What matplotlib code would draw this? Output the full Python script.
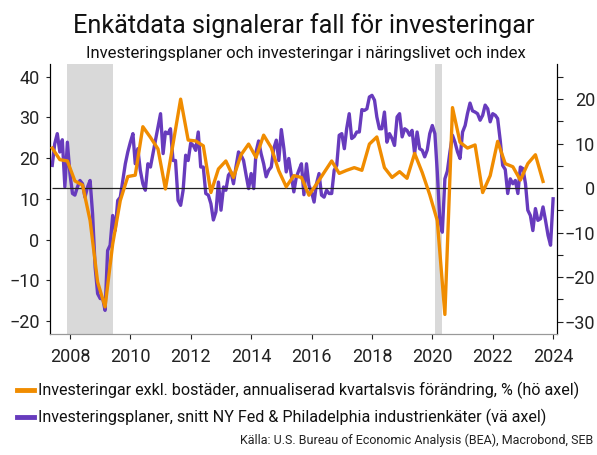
import numpy as np
import pandas as pd
import matplotlib
matplotlib.use("Agg")
import matplotlib.pyplot as plt

plt.rcParams['font.family'] = ['Roboto', 'DejaVu Sans']

# Investeringsplaner, snitt NY Fed & Philadelphia (vä axel), månadsdata från juni 2007
plans = [
    18.2, 23.5, 26.0, 21.5, 24.5, 12.9, 23.9, 16.2, 11.3, 10.9,
    12.9, 14.5, 13.7, 10.4, 12.9, 14.5, 6.3, -6.8, -13.3, -14.5,
    -14.5, -17.4, -2.7, -1.4, 5.9, 2.2, 9.6, 10.4, 14.5, 18.6,
    21.5, 23.9, 26.0, 18.6, 22.3, 17.0, 13.7, 12.1, 18.6, 17.8,
    21.1, 24.4, 27.6, 30.9, 21.1, 26.4, 26.0, 27.2, 19.4, 19.4,
    9.6, 8.4, 12.1, 20.7, 19.4, 23.7, 23.1, 21.9, 26.4, 17.8,
    17.8, 11.3, 10.9, 8.8, 4.8, 6.8, 14.1, 7.2, 12.9, 12.1,
    15.8, 16.6, 13.7, 17.8, 21.5, 20.7, 19.4, 15.8, 12.5, 16.2,
    12.5, 21.5, 24.2, 21.1, 18.6, 15.4, 17.0, 17.8, 22.3, 24.4,
    19.4, 27.0, 22.3, 16.6, 19.9, 15.8, 11.7, 15.3, 17.0, 18.6,
    11.0, 18.6, 13.3, 11.7, 9.2, 13.7, 16.2, 10.9, 10.4, 12.1,
    11.3, 11.3, 17.0, 18.2, 25.6, 26.0, 22.3, 27.2, 30.9, 24.8,
    25.3, 26.4, 26.4, 31.9, 31.7, 32.1, 35.0, 35.4, 34.2, 30.1,
    27.2, 27.2, 31.3, 23.9, 26.0, 24.8, 23.1, 30.1, 30.9, 25.2,
    27.2, 26.8, 25.6, 26.8, 21.1, 26.4, 22.3, 21.9, 20.3, 22.0,
    26.0, 28.0, 26.0, 16.6, 4.7, 1.8, 14.9, 16.8, 21.5, 25.6,
    23.9, 21.5, 19.9, 26.4, 28.0, 30.9, 33.5, 31.6, 31.3, 30.9,
    29.3, 30.5, 33.0, 32.1, 28.9, 30.9, 30.5, 29.7, 24.4, 18.2,
    17.2, 11.3, 14.9, 13.7, 14.5, 11.3, 17.8, 17.4, 13.7, 7.2,
    5.9, 2.2, 7.6, 4.7, 5.1, 8.0, 4.7, 1.0, -1.4, 10.0,
]

# Investeringar exkl. bostäder, % annualiserad kvartalsvis (hö axel)
invest = [
    9.0, 6.4, 6.1, 1.6, 0.7, -7.3, -21.1, -26.7, -12.6, -2.8,
    2.6, 2.9, 13.8, 11.4, 8.8, -0.2, 9.9, 20.0, 10.8, 10.6,
    9.5, -1.0, 4.3, 6.1, 2.4, 7.5, 9.9, 6.9, 11.9, 9.1,
    3.9, 0.3, 2.8, 2.4, -1.6, 0.9, 3.5, 6.1, 3.3, 4.0,
    4.6, 4.0, 9.9, 11.5, 4.6, 2.4, 3.7, 2.2, 7.8, 3.5,
    -1.5, -7.3, -28.4, 18.1, 10.3, 9.0, 9.7, -1.0, 2.8, 10.5,
    5.5, 4.8, 1.8, 5.5, 7.5, 1.5,
]

plan_dates = pd.date_range('2007-06-01', periods=len(plans), freq='MS')
invest_dates = pd.date_range('2007-06-01', periods=len(invest), freq='3MS')

recessions = [('2007-12-01', '2009-06-01'), ('2020-02-01', '2020-04-30')]
year_ticks = list(range(2008, 2025, 2))

orange = '#F08C00'
purple = '#673BBD'

fig = plt.figure(figsize=(5.97, 4.55), dpi=100)
ax1 = fig.add_axes([50 / 597, 1 - 334 / 455, 507 / 597, 270 / 455])
ax2 = ax1.twinx()

for start, end in recessions:
    ax1.axvspan(pd.Timestamp(start), pd.Timestamp(end), color='#d9d9d9', lw=0, zorder=0)

ax1.plot(plan_dates, plans, color=purple, lw=2.4, zorder=3)
ax2.hlines(0, plan_dates[0], plan_dates[-1], color='#222222', lw=0.9, zorder=1)
ax2.plot(invest_dates, invest, color=orange, lw=2.4, zorder=3)

ax1.set_xlim(pd.Timestamp('2007-05-05'), pd.Timestamp('2024-02-17'))
ax1.set_ylim(-23.2, 43.1)
ax2.set_ylim(-32.8, 27.9)

ax1.set_xticks([pd.Timestamp(f'{y}-01-01') for y in year_ticks])
ax1.set_xticklabels([str(y) for y in year_ticks])
ax1.set_yticks(range(-20, 41, 10))
ax2.set_yticks(range(-30, 21, 10))
ax2.set_yticks(range(-25, 26, 10), minor=True)

for ax in (ax1, ax2):
    ax.spines['top'].set_visible(False)
    ax.spines['left'].set_linewidth(0.8)
    ax.spines['right'].set_linewidth(0.8)
    ax.spines['bottom'].set_color('#999999')

ax1.tick_params(axis='y', length=3, width=0.8, pad=4.5, labelsize=13, colors='#222222')
ax1.tick_params(axis='x', length=3.6, width=0.8, pad=6.5, labelsize=13, colors='#222222')
ax2.tick_params(axis='y', which='both', length=4.3, width=0.8, labelsize=13, colors='#222222')
ax2.tick_params(axis='y', which='major', pad=23)
for lab in ax2.get_yticklabels():
    lab.set_horizontalalignment('right')

fig.text(304 / 597, 1 - 33 / 455, 'Enkätdata signalerar fall för investeringar',
         ha='center', va='baseline', fontsize=18.2, color='#111111')
fig.text(306 / 597, 1 - 58 / 455, 'Investeringsplaner och investeringar i näringslivet och index',
         ha='center', va='baseline', fontsize=12.0, color='#111111')

h1, = ax2.plot([], [], color=orange, lw=3.5)
h2, = ax1.plot([], [], color=purple, lw=3.5)
fig.legend([h1, h2],
           ['Investeringar exkl. bostäder, annualiserad kvartalsvis förändring, % (hö axel)',
            'Investeringsplaner, snitt NY Fed & Philadelphia industrienkäter (vä axel)'],
           loc='upper left', bbox_to_anchor=(17 / 597, 1 - 382 / 455), frameon=False,
           fontsize=11.6, handlelength=1.05, handletextpad=0.25, labelspacing=0.6,
           borderpad=0, borderaxespad=0, labelcolor='#111111')

fig.text(593 / 597, 1 - 440 / 455,
         'Källa: U.S. Bureau of Economic Analysis (BEA), Macrobond, SEB',
         ha='right', va='center', fontsize=9, color='#222222')

fig.savefig('out.png', dpi=100)
